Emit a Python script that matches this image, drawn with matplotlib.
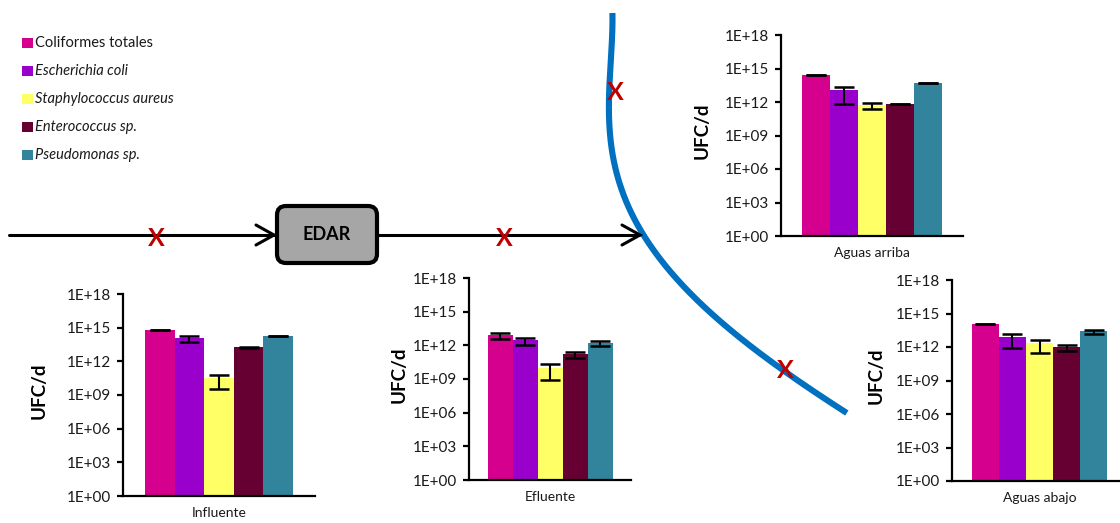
import numpy as np
import matplotlib
matplotlib.use("Agg")
import matplotlib.pyplot as plt
from matplotlib.patches import Rectangle, FancyBboxPatch
from matplotlib.ticker import FixedLocator, FuncFormatter, NullLocator

plt.rcParams['font.family'] = ['Lato', 'DejaVu Sans']

# ---- data -------------------------------------------------------------
bacteria = ["Coliformes totales", "Escherichia coli", "Staphylococcus aureus",
            "Enterococcus sp.", "Pseudomonas sp."]
italic = [False, True, True, True, True]
colors = ["#D6008F", "#9A00CC", "#FFFF66", "#660033", "#31849B"]

sites = ["Influente", "Efluente", "Aguas arriba", "Aguas abajo"]

# UFC/d per site (mean and standard deviation)
influente = [6.2e14, 1.16e14, 2.96e10, 1.8e13, 1.8e14]
influente_err = [6e13, 6.4e13, 2.64e10, 1.5e12, 1.5e13]

efluente = [7.8e12, 2.9e12, 1.04e10, 1.64e11, 1.58e12]
efluente_err = [3.9e12, 1.9e12, 9.6e9, 8.6e10, 6.6e11]

aguas_arriba = [2.6e14, 1.13e13, 5.6e11, 6.6e11, 5.0e13]
aguas_arriba_err = [2e13, 1.07e13, 3.1e11, 5e10, 4e12]

aguas_abajo = [1.12e14, 7.2e12, 2.1e12, 9.7e11, 2.5e13]
aguas_abajo_err = [3e12, 6.3e12, 1.8e12, 5.1e11, 1.0e13]

tick_exponents = [0, 3, 6, 9, 12, 15, 18]

# ---- figure -----------------------------------------------------------
W, H = 1120, 523
fig = plt.figure(figsize=(W / 100, H / 100), dpi=100)

# background layer for the process diagram (pixel coordinates)
bg = fig.add_axes([0, 0, 1, 1], zorder=0)
bg.set_xlim(0, W)
bg.set_ylim(H, 0)
bg.axis("off")

# river course: smooth path x(y) through guide points
guide = np.array([(614, 13), (611, 33), (609, 60), (609, 93), (612, 133),
                  (622, 183), (640, 233), (645, 240), (658, 257), (670, 273),
                  (707, 307), (745, 340), (785, 373), (847, 413)], dtype=float)
coef = np.polyfit(guide[:, 1], guide[:, 0], 4)
ry = np.linspace(13, 413, 400)
rx = np.polyval(coef, ry)
bg.plot(rx, ry, color="#0070C0", lw=4.4, solid_capstyle="butt")

# flow arrows
arrow_kw = dict(color="black", lw=2.2, solid_capstyle="round", solid_joinstyle="miter")
bg.plot([9, 275], [235, 235], **arrow_kw)
bg.plot([256, 274, 256], [225, 235, 245], **arrow_kw)
bg.plot([378, 639], [235, 235], **arrow_kw)
bg.plot([622, 640, 622], [225, 235, 245], **arrow_kw)

# treatment plant box
box = FancyBboxPatch((277, 206), 100, 57, boxstyle="round,pad=0,rounding_size=9",
                     facecolor="#A6A6A6", edgecolor="black", lw=3)
bg.add_patch(box)
bg.text(327, 235, "EDAR", ha="center", va="center", fontsize=13, fontweight="bold")

# sampling points
for (x, y) in [(156, 239), (504, 239), (615, 93), (785, 371)]:
    bg.text(x, y, "X", ha="center", va="center", fontsize=18, fontweight="bold",
            color="#C00000")

# legend
for i, (name, col, it) in enumerate(zip(bacteria, colors, italic)):
    yc = 43 + 28 * i
    bg.add_patch(Rectangle((22, yc - 5), 11, 10, facecolor=col, edgecolor="none"))
    bg.text(35, yc, name, ha="left", va="center", fontsize=10.5,
            style="italic" if it else "normal", color="#1a1a1a")

# ---- bar charts ---------------------------------------------------------
panels = [
    (influente, influente_err, (123, 294, 315, 496), -84),
    (efluente, efluente_err, (469, 278, 631, 480), -70),
    (aguas_arriba, aguas_arriba_err, (781, 35, 963, 236), -79),
    (aguas_abajo, aguas_abajo_err, (952, 280, 1127, 481), -75.5),
]

gap = 0.74
x = np.arange(len(bacteria))
for site, (vals, errs, (l, t_, r, b), ylab_dx) in zip(sites, panels):
    ax = fig.add_axes([l / W, 1 - b / H, (r - l) / W, (b - t_) / H], zorder=2)
    ax.patch.set_alpha(0)
    ax.bar(x, vals, width=1.0, color=colors, edgecolor="none")
    ax.errorbar(x, vals, yerr=errs, fmt="none", ecolor="black", elinewidth=1.5,
                capsize=7, capthick=1.8)
    ax.set_yscale("log")
    ax.set_ylim(1, 1e18)
    ax.set_xlim(-0.5 - gap, len(bacteria) - 0.5 + gap)
    ax.yaxis.set_major_locator(FixedLocator([10.0 ** e for e in tick_exponents]))
    ax.yaxis.set_minor_locator(NullLocator())
    ax.yaxis.set_major_formatter(FuncFormatter(lambda v, p: f"1E+{int(round(np.log10(v))):02d}"))
    ax.set_xticks([2])
    ax.set_xticklabels([site])
    ax.tick_params(axis="x", length=0, pad=8, labelsize=10, labelcolor="#1a1a1a")
    ax.tick_params(axis="y", direction="out", length=4.5, width=1.6, pad=4,
                   labelsize=11, labelcolor="#1a1a1a")
    for s in ("top", "right"):
        ax.spines[s].set_visible(False)
    for s in ("left", "bottom"):
        ax.spines[s].set_linewidth(1.6)
    ax.text(ylab_dx / (r - l), 0.5 + 4.5 / (b - t_), "UFC/d", transform=ax.transAxes,
            rotation=90, ha="center", va="center", fontsize=13.5, fontweight="bold")

fig.savefig("out.png", dpi=100)
